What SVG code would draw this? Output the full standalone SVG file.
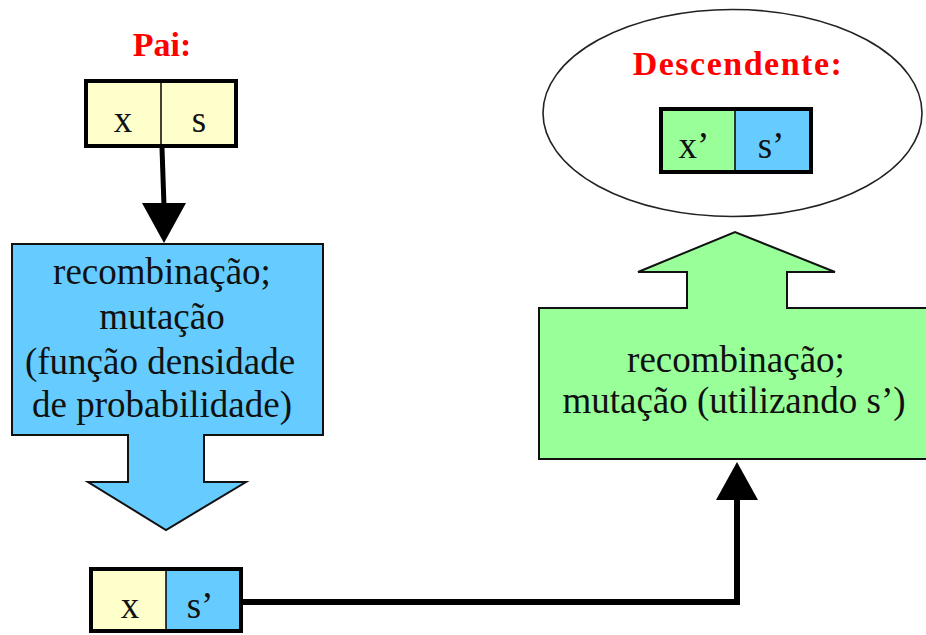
<svg xmlns="http://www.w3.org/2000/svg" width="926" height="635" viewBox="0 0 926 635">
  <style>
    .lbl { font-family: "Liberation Serif", "Times New Roman", serif; font-weight: bold; font-size: 34px; fill: #ff0000; text-anchor: middle; }
    .txt { font-family: "Liberation Serif", "Times New Roman", serif; font-size: 37px; fill: #111; text-anchor: middle; }
    .frame { fill: none; stroke: #000; stroke-width: 4; }
    .div { stroke: #000; stroke-width: 1.5; }
    .yel { fill: #ffffcc; }
    .blu { fill: #66ccff; }
    .grn { fill: #99ff99; }
    .shape { stroke: #111; stroke-width: 2; stroke-linejoin: miter; }
    .wire { fill: none; stroke: #000; }
  </style>
  <rect width="926" height="635" fill="#ffffff"/>

  <!-- connectors -->
  <g id="connectors">
    <line class="wire" x1="162" y1="148" x2="164" y2="206" stroke-width="5"/>
    <polygon points="142,203 186,203 164,243" fill="#000"/>
    <path class="wire" d="M243,602 H737 V498" stroke-width="6"/>
    <polygon points="716,500 758,500 737,462" fill="#000"/>
  </g>

  <!-- parent individual -->
  <g id="pai">
    <text class="lbl" x="162" y="56">Pai:</text>
    <rect class="yel" x="84" y="79" width="154" height="69"/>
    <line class="div" x1="161" y1="79" x2="161" y2="148"/>
    <rect class="frame" x="86" y="81" width="150" height="65"/>
    <text class="txt" x="123" y="132">x</text>
    <text class="txt" x="199" y="132">s</text>
  </g>

  <!-- first operator block (blue down-arrow) -->
  <g id="op1">
    <path class="blu shape" d="M12,244 H323 V435 H204 V482 H246 L166,530 L88,482 H128 V435 H12 Z"/>
    <text class="txt" x="162" y="284">recombinação;</text>
    <text class="txt" x="162" y="329">mutação</text>
    <text class="txt" x="160" y="374">(função densidade</text>
    <text class="txt" x="162" y="417">de probabilidade)</text>
  </g>

  <!-- intermediate individual -->
  <g id="intermedio">
    <rect class="yel" x="89" y="567" width="77" height="66"/>
    <rect class="blu" x="166" y="567" width="77" height="66"/>
    <line class="div" x1="166" y1="567" x2="166" y2="633"/>
    <rect class="frame" x="91" y="569" width="150" height="62"/>
    <text class="txt" x="130" y="618">x</text>
    <text class="txt" x="200" y="618">s’</text>
  </g>

  <!-- second operator block (green up-arrow) -->
  <g id="op2">
    <path class="grn shape" d="M539,308 H687 V272 H638 L735,232 L835,272 H787 V308 H930 V459 H539 Z"/>
    <text class="txt" x="736" y="372">recombinação;</text>
    <text class="txt" x="734" y="413">mutação (utilizando s’)</text>
  </g>

  <!-- offspring -->
  <g id="descendente">
    <ellipse cx="732.5" cy="113" rx="189.5" ry="103.5" fill="#fff" stroke="#222" stroke-width="1.6"/>
    <text class="lbl" x="738" y="75" style="letter-spacing:1.5px">Descendente:</text>
    <rect class="grn" x="659" y="107" width="76" height="67"/>
    <rect class="blu" x="735" y="107" width="78" height="67"/>
    <line class="div" x1="735" y1="107" x2="735" y2="174"/>
    <rect class="frame" x="661" y="109" width="150" height="63"/>
    <text class="txt" x="694" y="158">x’</text>
    <text class="txt" x="771" y="158">s’</text>
  </g>
</svg>
